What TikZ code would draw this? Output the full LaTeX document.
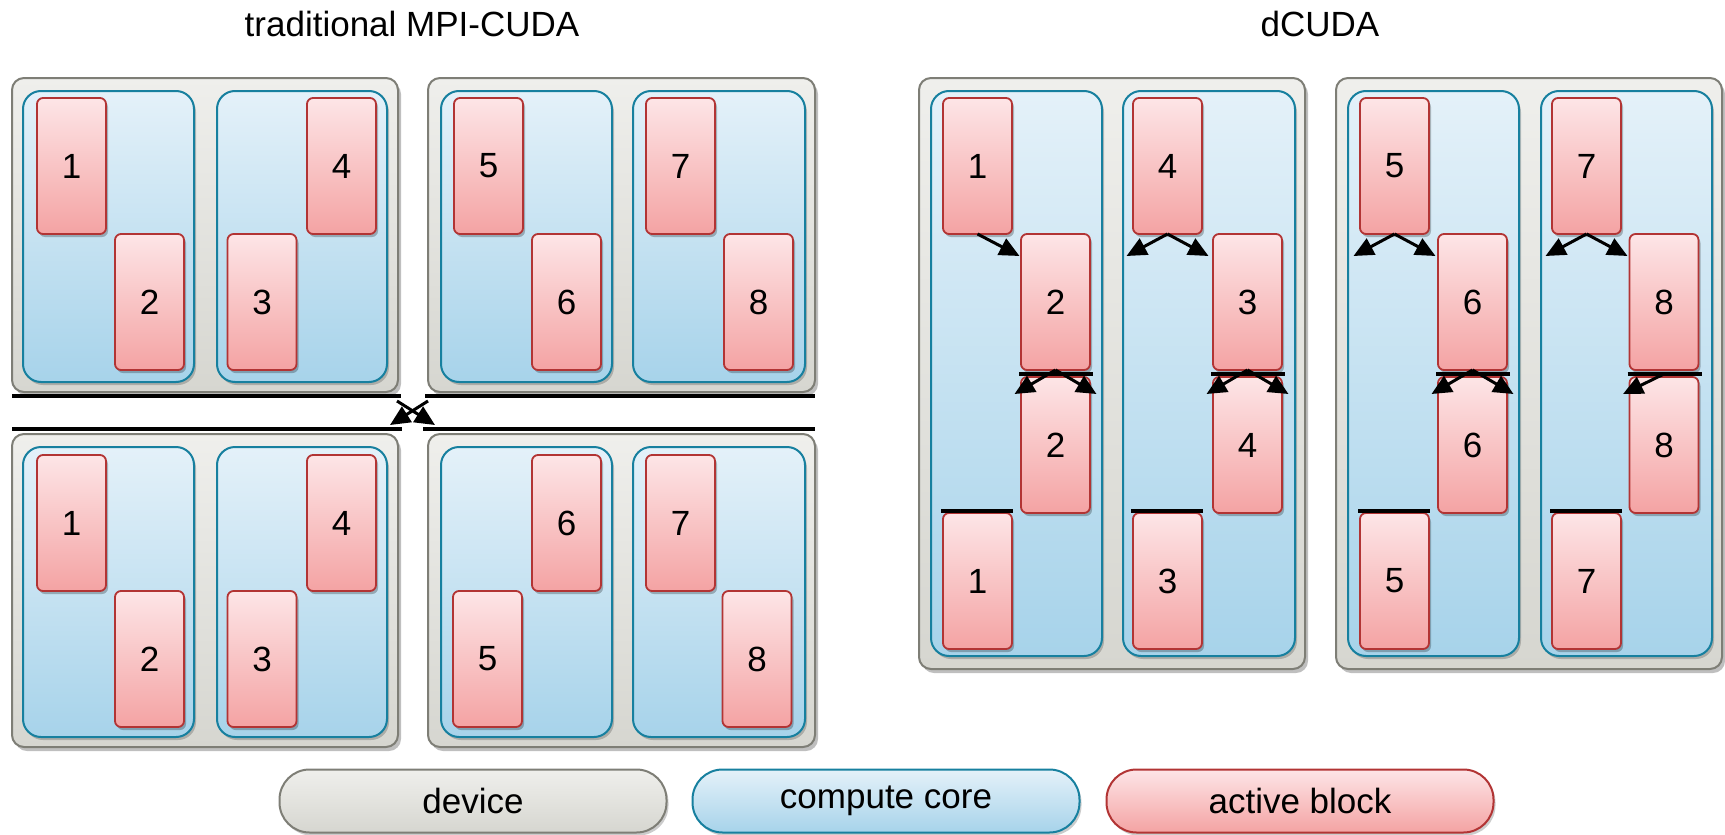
\documentclass[tikz,border=0pt]{standalone}
\usepackage{fontspec}
\setmainfont{Liberation Sans}
\usetikzlibrary{arrows.meta,shadows}
\definecolor{devborder}{HTML}{7E7E76}
\definecolor{devtop}{HTML}{EFEFEC}
\definecolor{devbot}{HTML}{D6D6D0}
\definecolor{coreborder}{HTML}{17809F}
\definecolor{coretop}{HTML}{E4F1F9}
\definecolor{corebot}{HTML}{A7D3EA}
\definecolor{blkborder}{HTML}{B23434}
\definecolor{blktop}{HTML}{FDE5E7}
\definecolor{blkbot}{HTML}{F4A3A3}
\tikzset{
  x=0.5pt, y=-0.5pt,
  every node/.style={inner sep=0pt, outer sep=0pt, font=\fontsize{17.5}{20}\selectfont},
  devbox/.style={rounded corners=6pt, draw=devborder, line width=1pt, top color=devtop, bottom color=devbot,
    drop shadow={shadow xshift=1.5pt, shadow yshift=-2pt, opacity=0.25, fill=black}},
  corebox/.style={rounded corners=9pt, draw=coreborder, line width=1pt, top color=coretop, bottom color=corebot,
    drop shadow={shadow xshift=1pt, shadow yshift=-1.5pt, opacity=0.2, fill=black}},
  blkbox/.style={rounded corners=3pt, draw=blkborder, line width=0.9pt, top color=blktop, bottom color=blkbot,
    minimum width=34.5pt, minimum height=68pt,
    drop shadow={shadow xshift=1pt, shadow yshift=-1.5pt, opacity=0.25, fill=black}},
  legbox/.style={rounded corners=15pt, line width=1pt, minimum width=193.5pt, minimum height=31.5pt,
    drop shadow={shadow xshift=1pt, shadow yshift=-1.5pt, opacity=0.2, fill=black}},
  sepline/.style={line width=2pt, black},
  arr/.style={line width=1.5pt, -{Triangle[length=10pt,width=9pt]}},
}
\newcommand\rbox[7]{\node[#2, minimum width={(#5-#3)*0.5pt}, minimum height={(#6-#4)*0.5pt}] (#1) at ({(#3+#5)/2},{(#4+#6)/2}) {#7};}
\newcommand\blk[4]{\node[blkbox] (#1) at (#2,#3) {#4};}
\begin{document}
\begin{tikzpicture}
\useasboundingbox (0,0) rectangle (1725,835);
% titles
\node[anchor=base] (t1) at (412,36) {traditional MPI-CUDA};
\node[anchor=base] (t2) at (1320,36) {dCUDA};
% ---------------- traditional MPI-CUDA ----------------
\rbox{dTL}{devbox}{12}{78}{398}{392}{}
\rbox{dTR}{devbox}{428}{78}{815}{392}{}
\rbox{dBL}{devbox}{12}{434}{398}{747}{}
\rbox{dBR}{devbox}{428}{434}{815}{747}{}
\rbox{cTL1}{corebox}{23}{91}{194}{382}{}
\rbox{cTL2}{corebox}{217}{91}{387}{382}{}
\rbox{cTR1}{corebox}{441}{91}{612}{382}{}
\rbox{cTR2}{corebox}{633}{91}{805}{382}{}
\rbox{cBL1}{corebox}{23}{447}{194}{737}{}
\rbox{cBL2}{corebox}{217}{447}{387}{737}{}
\rbox{cBR1}{corebox}{441}{447}{612}{737}{}
\rbox{cBR2}{corebox}{633}{447}{805}{737}{}
% top device blocks
\blk{ta1}{71.5}{166}{1}
\blk{ta2}{149.5}{302}{2}
\blk{ta3}{262}{302}{3}
\blk{ta4}{341.5}{166}{4}
\blk{ta5}{488.5}{166}{5}
\blk{ta6}{566.5}{302}{6}
\blk{ta7}{680.5}{166}{7}
\blk{ta8}{758.5}{302}{8}
% bottom device blocks
\blk{tb1}{71.5}{523}{1}
\blk{tb2}{149.5}{659}{2}
\blk{tb3}{262}{659}{3}
\blk{tb4}{341.5}{523}{4}
\blk{tb5}{487.5}{659}{5}
\blk{tb6}{566.5}{523}{6}
\blk{tb7}{680.5}{523}{7}
\blk{tb8}{757}{659}{8}
% network lines
\draw[sepline] (12,396) -- (401,396);
\draw[sepline] (425,396) -- (815,396);
\draw[sepline] (12,429) -- (402,429);
\draw[sepline] (423,429) -- (815,429);
\coordinate (xa) at (397,401);
\coordinate (xb) at (435,425);
\coordinate (xc) at (428,401);
\coordinate (xd) at (390,425);
\draw[arr] (xa) -- (xb);
\draw[arr] (xc) -- (xd);
% ---------------- dCUDA ----------------
\rbox{dD1}{devbox}{919}{78}{1305}{669}{}
\rbox{dD2}{devbox}{1336}{78}{1722}{669}{}
\rbox{cD1}{corebox}{931}{91}{1102}{656}{}
\rbox{cD2}{corebox}{1123}{91}{1295}{656}{}
\rbox{cD3}{corebox}{1348}{91}{1519}{656}{}
\rbox{cD4}{corebox}{1541}{91}{1712}{656}{}
% core 1
\blk{d1a}{977.5}{166}{1}
\blk{d2a}{1055.5}{302}{2}
\blk{d2b}{1055.5}{445}{2}
\blk{d1b}{977.5}{581}{1}
% core 2
\blk{d4a}{1167.5}{166}{4}
\blk{d3a}{1247.5}{302}{3}
\blk{d4b}{1247.5}{445}{4}
\blk{d3b}{1167.5}{581}{3}
% core 3
\blk{d5a}{1394.5}{166}{5}
\blk{d6a}{1472.5}{302}{6}
\blk{d6b}{1472.5}{445}{6}
\blk{d5b}{1394.5}{581}{5}
% core 4
\blk{d7a}{1586.5}{166}{7}
\blk{d8a}{1664}{302}{8}
\blk{d8b}{1664}{445}{8}
\blk{d7b}{1586.5}{581}{7}
% barrier lines
\foreach \b in {d2a,d3a,d6a,d8a}{
  \draw[sepline] ([xshift=-1pt,yshift=-2pt]\b.south west) -- ([xshift=1.5pt,yshift=-2pt]\b.south east);
}
\foreach \b in {d1b,d3b,d5b,d7b}{
  \draw[sepline] ([xshift=-1pt,yshift=1pt]\b.north west) -- ([xshift=0.5pt,yshift=1pt]\b.north east);
}
% arrows
\draw[arr] (d1a.south) -- ++(42,22);
\draw[arr] (d4a.south) -- ++(-41,22);
\draw[arr] (d4a.south) -- ++(41,22);
\draw[arr] (d2a.south) -- ++(-41,24);
\draw[arr] (d2a.south) -- ++(41,24);
\draw[arr] (d3a.south) -- ++(-41,24);
\draw[arr] (d3a.south) -- ++(41,24);
\draw[arr] (d5a.south) -- ++(-41,22);
\draw[arr] (d5a.south) -- ++(41,22);
\draw[arr] (d6a.south) -- ++(-41,24);
\draw[arr] (d6a.south) -- ++(41,24);
\draw[arr] (d7a.south) -- ++(-41,22);
\draw[arr] (d7a.south) -- ++(41,22);
\draw[arr] ([yshift=-2pt]d8a.south) -- ++(-41,20);
% ---------------- legend ----------------
\node[legbox, draw=devborder, top color=devtop, bottom color=devbot] (lg1) at (473,801) {device};
\node[legbox, draw=coreborder, top color=coretop, bottom color=corebot] (lg2) at (886,801) {compute core};
\node[legbox, draw=blkborder, top color=blktop, bottom color=blkbot] (lg3) at (1300,801) {active block};
\end{tikzpicture}
\end{document}
